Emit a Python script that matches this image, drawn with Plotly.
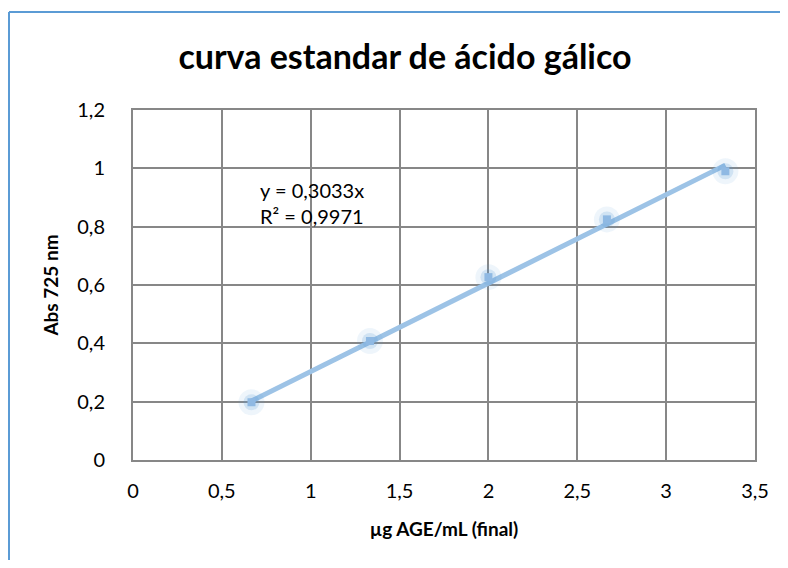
import plotly.graph_objects as go

x_vals = [0.6667, 1.3333, 2.0, 2.6667, 3.3333]
y_vals = [0.198, 0.408, 0.627, 0.825, 0.99]
slope = 0.3033
r2 = 0.9971
x_ticks = [0, 0.5, 1, 1.5, 2, 2.5, 3, 3.5]
x_labels = ["0", "0,5", "1", "1,5", "2", "2,5", "3", "3,5"]
y_ticks = [0, 0.2, 0.4, 0.6, 0.8, 1.0, 1.2]
y_labels = ["0", "0,2", "0,4", "0,6", "0,8", "1", "1,2"]

OFF = 8  # default page body margin
W, H = 788 - 2 * OFF, 568 - 2 * OFF
L, T = 133 - OFF, 110 - OFF
pw, ph = 622, 350
R, B = W - L - pw, H - T - ph

FONT = "Lato, Open Sans, sans-serif"

fig = go.Figure()
fit_x = [min(x_vals), max(x_vals)]
fit_y = [slope * v for v in fit_x]
fig.add_trace(go.Scatter(x=fit_x, y=fit_y, mode="lines",
                         line=dict(color="#9DC3E6", width=5), hoverinfo="skip"))
fig.add_trace(go.Scatter(x=x_vals, y=y_vals, mode="markers",
                         marker=dict(symbol="circle", size=26, color="rgba(91,155,213,0.10)",
                                     line=dict(width=0)), hoverinfo="skip"))
fig.add_trace(go.Scatter(x=x_vals, y=y_vals, mode="markers",
                         marker=dict(symbol="circle", size=16, color="rgba(91,155,213,0.20)",
                                     line=dict(width=0)), hoverinfo="skip"))
fig.add_trace(go.Scatter(x=x_vals, y=y_vals, mode="markers",
                         marker=dict(symbol="square", size=8, color="#8FB9E3",
                                     line=dict(width=0))))

fig.add_annotation(x=0.703, y=0.881, xref="x", yref="y", xanchor="left", yanchor="middle",
                   text="y = 0,3033x<br>R² = 0,9971", showarrow=False, align="left",
                   font=dict(family=FONT, size=20, color="#000"))

# chart-area border: left and top edges only
bx0 = (1 - L) / pw
by1 = 1 + (T - 4) / ph
fig.add_shape(type="line", xref="paper", yref="paper", x0=bx0, x1=bx0,
              y0=-B / ph, y1=by1, line=dict(color="#5B9BD5", width=2), layer="below")
fig.add_shape(type="line", xref="paper", yref="paper", x0=bx0, x1=(W - L) / pw,
              y0=by1, y1=by1, line=dict(color="#5B9BD5", width=2), layer="below")

fig.update_layout(
    width=W, height=H,
    margin=dict(l=L, r=R, t=T, b=B),
    paper_bgcolor="white", plot_bgcolor="white",
    showlegend=False,
    separators=",.",
    font=dict(family=FONT, color="#000"),
    title=dict(text="<b>curva estandar de ácido gálico</b>", x=(405 - OFF) / W, xanchor="center",
               y=1 - (57 - OFF) / H, yanchor="middle",
               font=dict(family=FONT, size=34, color="#000")),
    xaxis=dict(range=[0, 3.5], tickvals=x_ticks, ticktext=x_labels,
               showgrid=True, gridcolor="#878787", gridwidth=2,
               showline=True, linecolor="#878787", linewidth=2, mirror=True,
               zeroline=False, ticks="outside", ticklen=12, tickcolor="rgba(0,0,0,0)",
               tickfont=dict(size=20),
               title=dict(text="<b>µg AGE/mL (final)</b>", font=dict(size=19), standoff=22)),
    yaxis=dict(range=[0, 1.2], tickvals=y_ticks, ticktext=y_labels,
               showgrid=True, gridcolor="#878787", gridwidth=2,
               showline=True, linecolor="#878787", linewidth=2, mirror=True,
               zeroline=False, ticks="outside", ticklen=22, tickcolor="rgba(0,0,0,0)",
               tickfont=dict(size=20),
               title=dict(text="<b>Abs 725 nm</b>", font=dict(size=19), standoff=14)),
)

fig.write_html("out.html")
